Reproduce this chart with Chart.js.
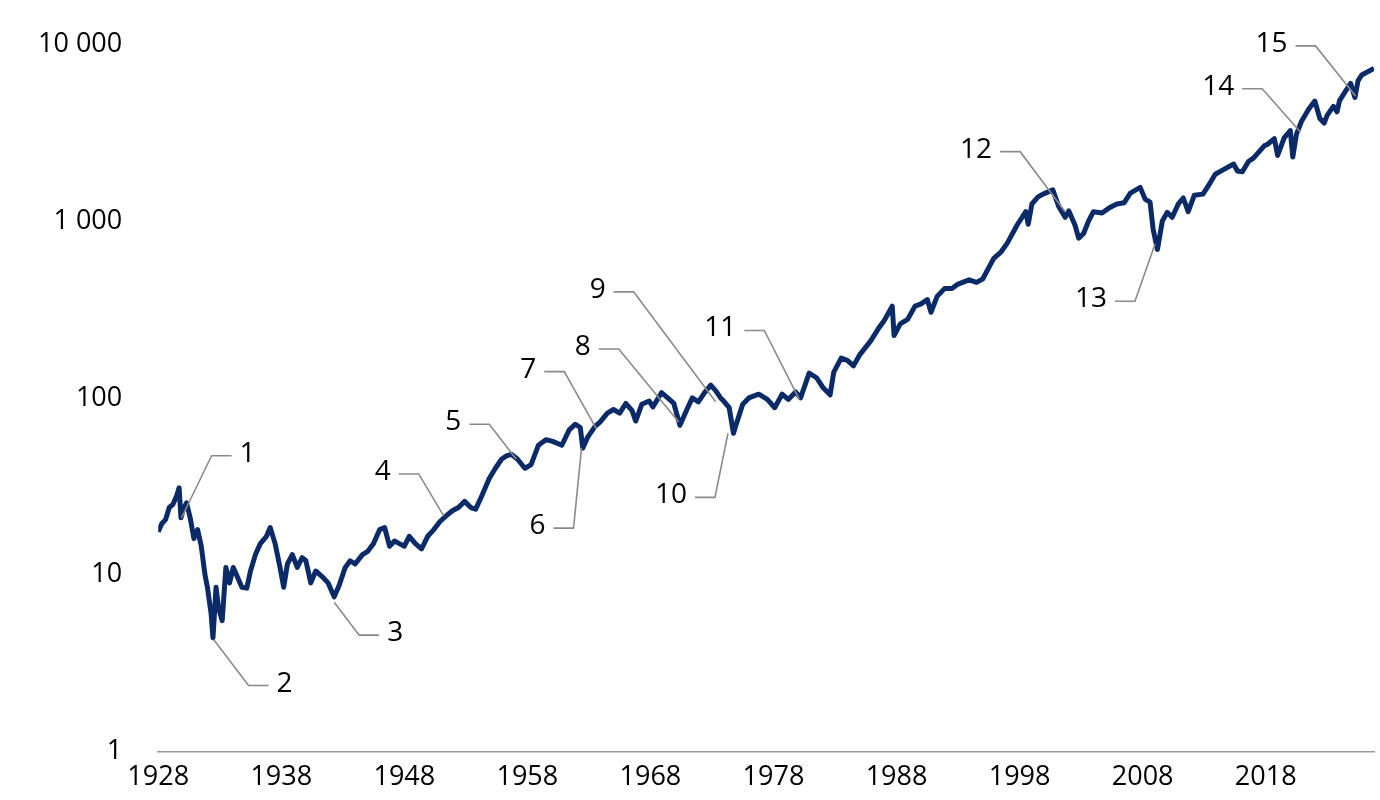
<!DOCTYPE html>
<html><head><meta charset="utf-8">
<script src="https://cdn.jsdelivr.net/npm/chart.js@4"></script>
<style>html,body{margin:0;background:#fff}#w{width:1380px;height:800px}</style>
</head><body><div id="w"><canvas id="c"></canvas></div>
<script>
const years=[1928.0,1928.3,1928.6,1928.9,1929.2,1929.5,1929.7,1929.85,1930.0,1930.3,1930.6,1930.9,1931.2,1931.5,1931.8,1932.0,1932.3,1932.45,1932.7,1932.9,1933.2,1933.5,1933.8,1934.1,1934.5,1934.8,1935.2,1935.5,1935.9,1936.3,1936.8,1937.1,1937.5,1937.9,1938.2,1938.5,1938.9,1939.3,1939.7,1940.0,1940.4,1940.8,1941.3,1941.8,1942.3,1942.7,1943.2,1943.6,1944.0,1944.6,1945.0,1945.5,1946.0,1946.4,1946.8,1947.2,1947.6,1948.0,1948.4,1948.9,1949.4,1949.9,1950.4,1950.9,1951.4,1951.9,1952.4,1952.9,1953.4,1953.8,1954.3,1954.9,1955.4,1955.9,1956.3,1956.7,1957.2,1957.8,1958.3,1958.9,1959.5,1960.0,1960.8,1961.4,1961.9,1962.3,1962.5,1962.9,1963.5,1963.9,1964.5,1965.0,1965.5,1966.0,1966.5,1966.8,1967.3,1967.9,1968.2,1968.9,1969.4,1969.9,1970.4,1970.9,1971.4,1971.9,1972.4,1972.9,1973.3,1973.7,1973.95,1974.4,1974.75,1975.0,1975.5,1976.0,1976.8,1977.5,1978.1,1978.7,1979.2,1979.8,1980.2,1980.9,1981.5,1982.0,1982.6,1982.9,1983.5,1984.0,1984.5,1985.0,1985.9,1986.5,1987.0,1987.65,1987.8,1988.3,1988.9,1989.5,1990.0,1990.5,1990.8,1991.3,1991.9,1992.5,1993.0,1993.9,1994.5,1995.0,1995.9,1996.5,1997.0,1997.8,1998.5,1998.7,1999.0,1999.5,2000.0,2000.7,2001.2,2001.7,2002.0,2002.5,2002.8,2003.2,2003.6,2004.0,2004.7,2005.3,2005.9,2006.5,2007.0,2007.8,2008.2,2008.6,2008.85,2009.2,2009.6,2010.0,2010.4,2010.9,2011.3,2011.7,2012.2,2012.9,2013.5,2013.9,2014.6,2015.4,2015.7,2016.1,2016.6,2017.0,2017.9,2018.1,2018.7,2018.97,2019.5,2020.0,2020.2,2020.5,2020.9,2021.5,2021.99,2022.4,2022.75,2023.0,2023.5,2023.8,2024.0,2024.5,2024.9,2025.25,2025.5,2025.8,2026.8];
const values=[17.5,19.5,20.5,24,25,28,31,21,23,25.5,21,16,18,14.5,10,8.5,6,4.4,8.5,6.5,5.5,11,9,11,9.5,8.5,8.4,10.5,13,15,16.5,18.5,15,11,8.5,11.5,13,11,12.5,12,9,10.5,9.8,9,7.5,8.7,11,12,11.5,13,13.5,15,18,18.5,14.5,15.5,15,14.5,16.5,15,14,16.5,18,20,21.5,23,24,26,24,23.5,28,35,40,45,47,48,45,40,42,54,58,57,54,66,71,68,52,60,69,73,82,86,82,93,85,74,92,96,89,107,100,93,70,84,100,95,107,118,110,100,96,88,63,72,92,100,105,98,88,105,98,108,100,138,130,115,104,140,168,163,152,175,210,245,274,330,225,262,278,330,340,360,305,375,415,415,440,465,450,470,615,670,750,950,1130,960,1250,1370,1430,1500,1200,1050,1140,950,800,850,1000,1130,1110,1190,1250,1270,1440,1550,1330,1280,900,690,1000,1120,1050,1250,1350,1130,1400,1420,1650,1840,1960,2100,1920,1900,2170,2270,2670,2700,2920,2350,2950,3250,2300,3100,3650,4300,4770,3800,3580,3970,4450,4150,4800,5450,6000,5000,6200,6700,7300];
const xTicks=[1928,1938,1948,1958,1968,1978,1988,1998,2008,2018];
const yTicks=[1,10,100,1000,10000];
const noteLabels=['1','2','3','4','5','6','7','8','9','10','11','12','13','14','15'];
const noteYears=[1929.9,1932.5,1942.3,1951.2,1957.1,1962.4,1963.6,1970.3,1973.3,1974.3,1980.1,2001.7,2009.0,2020.8,2025.3];
const noteValues=[21,4.3,7,21.5,45,52,67,73,95,63,98,1130,740,3200,5100];
// label elbow offsets (px) from point: [dx, dy]
const noteOffsets=[[30,-62],[35,46],[25,33],[-25,-42],[-27,-35],[-8,80],[-32,-57],[-60,-73],[-82,-110],[-13,64],[-35,-69],[-45,-60],[-20,57],[-38,-43],[-40,-50]];
const FONT='"Open Sans", "Noto Sans", sans-serif';
const notes={id:'notes',afterDatasetsDraw(ch){
  const c=ch.ctx,x=ch.scales.x,y=ch.scales.y;
  c.save();c.strokeStyle='#8a8a8a';c.lineWidth=1.6;c.fillStyle='#000';
  c.font='28px '+FONT;c.textBaseline='middle';
  noteLabels.forEach((t,i)=>{
    const px=x.getPixelForValue(noteYears[i]),py=y.getPixelForValue(noteValues[i]);
    const ex=px+noteOffsets[i][0],ey=py+noteOffsets[i][1];
    const dir=noteOffsets[i][0]>=0?1:-1;
    const hx=ex+dir*20;
    c.beginPath();c.moveTo(px,py);c.lineTo(ex,ey);c.lineTo(hx,ey);c.stroke();
    c.textAlign=dir>0?'left':'right';
    c.fillText(t,hx+dir*8,ey-2);
  });
  c.restore();}};
new Chart(document.getElementById('c'),{
  type:'line',
  data:{datasets:[{data:years.map((v,i)=>({x:v,y:values[i]})),borderColor:'#0b2a68',borderWidth:5,pointRadius:0,tension:0,borderJoinStyle:'round'}]},
  options:{responsive:true,maintainAspectRatio:false,animation:false,
    layout:{padding:{top:38,right:6,left:10,bottom:4}},
    plugins:{legend:{display:false},tooltip:{enabled:false}},
    scales:{
      x:{type:'linear',min:1928,max:2026.8,
        afterBuildTicks:s=>{s.ticks=xTicks.map(v=>({value:v}));},
        grid:{display:false,drawTicks:true,tickLength:8,tickColor:'#999'},
        border:{display:true,color:'#999',width:1.5},
        ticks:{color:'#000',font:{size:27,family:FONT},maxRotation:0,padding:2,callback:v=>String(v)}},
      y:{type:'logarithmic',min:1,max:10000,
        afterBuildTicks:s=>{s.ticks=yTicks.map(v=>({value:v}));},
        grid:{display:false},border:{display:false},
        ticks:{color:'#000',font:{size:27,family:FONT},padding:28,
          callback:v=>String(v).replace(/\B(?=(\d{3})+(?!\d))/g,' ')}}
    }},
  plugins:[notes]});
</script></body></html>
